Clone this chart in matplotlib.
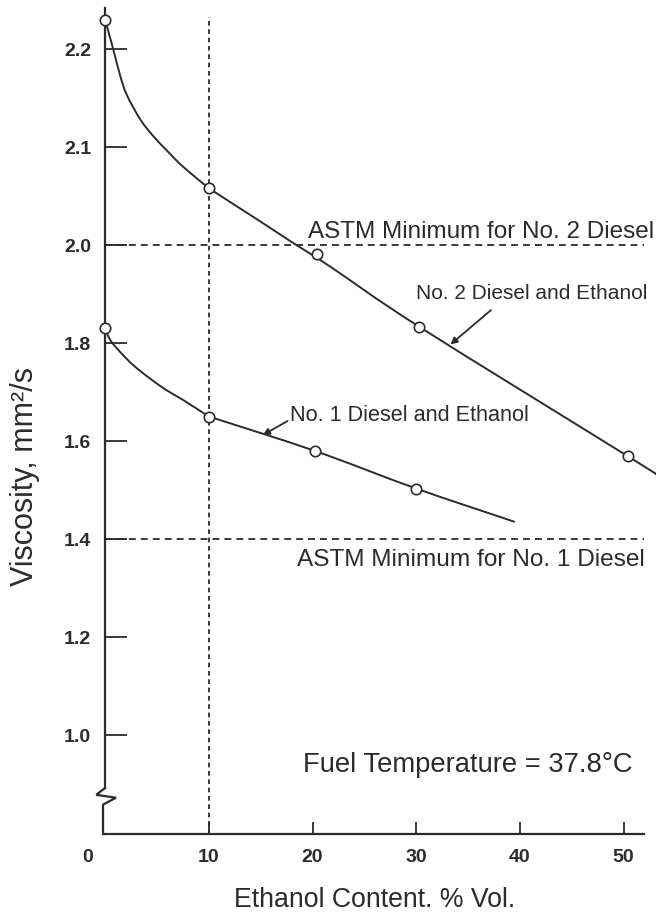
import numpy as np
import matplotlib
matplotlib.use("Agg")
import matplotlib.pyplot as plt
from matplotlib.path import Path
from matplotlib.patches import PathPatch
from matplotlib.transforms import ScaledTranslation

plt.rcParams['font.family'] = ['Liberation Sans', 'DejaVu Sans']
plt.rcParams['lines.scale_dashes'] = False

# Measured blends (open circles)
ethanol_no2 = [0.0, 10.0, 20.4, 30.3, 50.4]
visc_no2 = [2.230, 2.058, 1.981, 1.833, 1.569]
ethanol_no1 = [0.0, 10.0, 20.2, 30.0]
visc_no1 = [1.830, 1.650, 1.580, 1.503]

# Hand-drawn trend curves through the measurements
curve_no2_x = [0.0, 0.8, 1.45, 2.1, 3.4, 4.65, 5.9, 7.5, 10.0, 12.4, 14.9, 18.0,
               21.7, 30.3, 50.4, 53.1]
curve_no2_y = [2.230, 2.199, 2.173, 2.153, 2.128, 2.111, 2.097, 2.080, 2.058,
               2.0415, 2.0245, 2.003, 1.956, 1.833, 1.569, 1.533]
curve_no1_x = [0.0, 0.5, 1.44, 2.7, 4.3, 5.9, 7.5, 10.0, 20.2, 30.0, 39.5]
curve_no1_y = [1.830, 1.806, 1.782, 1.755, 1.728, 1.704, 1.684, 1.650, 1.580,
               1.503, 1.435]
curve_break_x = 10.0  # curves change slope under the 10 % marker

# Specification limits and reference blend level
astm_min_no2 = 2.0
astm_min_no1 = 1.4
ref_ethanol = 10.0

x_ticks = [0, 10, 20, 30, 40, 50]
x_tick_labels = ['0', '10', '20', '30', '40', '50']
y_ticks = [1.0, 1.2, 1.4, 1.6, 1.8, 2.0, 2.1, 2.2]
y_tick_labels = ['1.0', '1.2', '1.4', '1.6', '1.8', '2.0', '2.1', '2.2']

INK = '#2b2b2b'


def fwd(y):
    y = np.asarray(y, dtype=float)
    return np.where(y > 2.0, 2.0 + 2.0 * (y - 2.0), y)


def inv(t):
    t = np.asarray(t, dtype=float)
    return np.where(t > 2.0, 2.0 + (t - 2.0) / 2.0, t)


def smooth_path(xs, ys):
    """Catmull-Rom curve through the given points, as cubic Bezier segments
    built in the axis' scaled space."""
    p = np.column_stack([np.asarray(xs, float), fwd(ys)])
    ext = np.vstack([p[0], p, p[-1]])
    verts = [p[0]]
    codes = [Path.MOVETO]
    for i in range(1, len(ext) - 2):
        p0, p1, p2, p3 = ext[i - 1], ext[i], ext[i + 1], ext[i + 2]
        c1 = p1 + (p2 - p0) / 6.0
        c2 = p2 - (p3 - p1) / 6.0
        verts += [c1, c2, p2]
        codes += [Path.CURVE4] * 3
    verts = np.array(verts)
    verts[:, 1] = inv(verts[:, 1])
    return Path(verts, codes)


fig = plt.figure(figsize=(6.56, 9.15), dpi=100)
fig.patch.set_facecolor('white')
ax = fig.add_axes([102 / 656, 81 / 915, 554 / 656, 834 / 915])
ax.set_yscale('function', functions=(fwd, inv))
ax.set_xlim(-0.3, 53.12)
ax.set_ylim(0.798, 2.25)

# Axes frame: y axis broken near the bottom
for side in ('top', 'right'):
    ax.spines[side].set_visible(False)
ax.spines['left'].set_position(('data', 0))
ax.spines['left'].set_bounds(0.892, 2.242)
ax.spines['bottom'].set_bounds(-0.25, 52.0)
for side in ('left', 'bottom'):
    ax.spines[side].set_linewidth(1.6)
    ax.spines[side].set_color(INK)

brk_x = [0.0, -0.85, 1.05, -0.2, -0.2]
brk_y = [0.892, 0.878, 0.872, 0.858, 0.798]
ax.plot(brk_x, brk_y, color=INK, lw=1.6, clip_on=False, solid_joinstyle='miter')

ax.set_xticks(x_ticks)
ax.set_xticklabels(x_tick_labels, fontsize=14, fontweight='bold', color=INK)
ax.set_yticks(y_ticks)
ax.set_yticklabels(y_tick_labels, fontsize=14, fontweight='bold', color=INK)
ax.yaxis.set_minor_locator(plt.NullLocator())
ax.tick_params(axis='y', direction='in', length=16, width=1.3, pad=10, colors=INK)
ax.tick_params(axis='x', direction='in', length=8.5, width=1.3, pad=11, colors=INK)
ax.xaxis.get_major_ticks()[0].tick1line.set_visible(False)
ax.get_xticklabels()[0].set_transform(
    ax.get_xticklabels()[0].get_transform()
    + ScaledTranslation(-17 / 100, 0, fig.dpi_scale_trans))

# Reference lines
ax.plot([0, 52], [astm_min_no2, astm_min_no2], color=INK, lw=1.3, dashes=(5.0, 3.6))
ax.plot([0, 52], [astm_min_no1, astm_min_no1], color=INK, lw=1.3, dashes=(5.0, 3.6))
ax.plot([ref_ethanol, ref_ethanol], [0.798, 2.233], color=INK, lw=1.3,
        dashes=(3.4, 2.6))

# Curves (each smoothed in two pieces, joined under the 10 % marker)
for cx, cy in ((curve_no2_x, curve_no2_y), (curve_no1_x, curve_no1_y)):
    k = cx.index(curve_break_x)
    for sx, sy in ((cx[:k + 1], cy[:k + 1]), (cx[k:], cy[k:])):
        ax.add_patch(PathPatch(smooth_path(sx, sy), facecolor='none',
                               edgecolor=INK, lw=1.4, clip_on=False))

ax.plot(ethanol_no2, visc_no2, 'o', ms=7.5, mfc='white', mec=INK, mew=1.2,
        clip_on=False, zorder=5)
ax.plot(ethanol_no1, visc_no1, 'o', ms=7.5, mfc='white', mec=INK, mew=1.2,
        clip_on=False, zorder=5)

# Annotations
ax.text(19.6, 2.007, 'ASTM Minimum for No. 2 Diesel', fontsize=17.5, color=INK,
        ha='left', va='baseline')
ax.text(18.5, 1.357, 'ASTM Minimum for No. 1 Diesel', fontsize=17.6, color=INK,
        ha='left', va='center')
ax.text(30.0, 1.901, 'No. 2 Diesel and Ethanol', fontsize=15, color=INK,
        ha='left', va='center')
ax.text(17.8, 1.653, 'No. 1 Diesel and Ethanol', fontsize=15.6, color=INK,
        ha='left', va='center')
ax.text(19.1, 0.939, 'Fuel Temperature = 37.8°C', fontsize=19.7, color=INK,
        ha='left', va='center')

arrow = dict(arrowstyle='-|>', lw=1.3, color=INK, mutation_scale=10,
             shrinkA=0, shrinkB=0)
ax.annotate('', xy=(33.3, 1.797), xytext=(37.2, 1.867), arrowprops=arrow)
ax.annotate('', xy=(15.2, 1.612), xytext=(17.6, 1.641), arrowprops=arrow)

fig.text(374.5 / 656, 1 - 900 / 915, 'Ethanol Content. % Vol.', fontsize=19.2,
         color=INK, ha='center', va='center')
fig.text(25 / 656, 1 - 477 / 915, 'Viscosity, mm²/s', fontsize=22, color=INK,
         ha='center', va='center', rotation=90)

fig.savefig('out.png', dpi=100, facecolor='white')
